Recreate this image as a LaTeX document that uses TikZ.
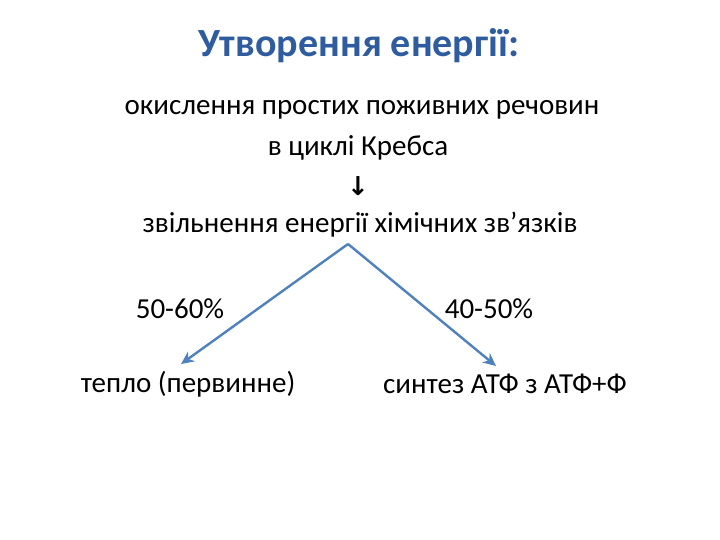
\documentclass[tikz,border=0pt]{standalone}
\usepackage{fontspec}
\setmainfont{Carlito}
\newfontfamily\arrowfont{DejaVu Sans}
\usetikzlibrary{arrows.meta}
\definecolor{titleblue}{HTML}{2E5C9E}
\definecolor{linkblue}{HTML}{4F81BD}
\tikzset{txt/.style={font=\fontsize{29}{32}\selectfont, inner sep=1pt},
  link/.style={draw=linkblue, line width=2.4pt, -{Stealth[length=13pt,width=12pt]}}}
\begin{document}
\begin{tikzpicture}[x=1pt,y=-1pt]
\useasboundingbox (0,0) rectangle (720,540);
\node[font=\fontsize{40}{44}\selectfont\bfseries, text=titleblue] (title) at (359,46) {Утворення енергії:};
\node[txt] (l1) at (362,110) {окислення простих поживних речовин};
\node[txt] (l2) at (358,148) {в циклі Кребса};
\node[font=\arrowfont\bfseries\fontsize{26}{28}\selectfont] (ar) at (358,186) {↓};
\node[txt] (l3) at (360,225) {звільнення енергії хімічних зв’язків};
\coordinate (top) at (348,244);
\node[txt] (p1) at (180,309) {50-60\%};
\node[txt] (p2) at (489,309) {40-50\%};
\node[txt] (heat) at (188,384) {тепло (первинне)};
\node[txt] (atp) at (505,384) {синтез АТФ з АТФ+Ф};
\coordinate (e1) at (181,364);
\coordinate (e2) at (496,366);
\draw[link] (top) -- (e1);
\draw[link] (top) -- (e2);
\end{tikzpicture}
\end{document}
